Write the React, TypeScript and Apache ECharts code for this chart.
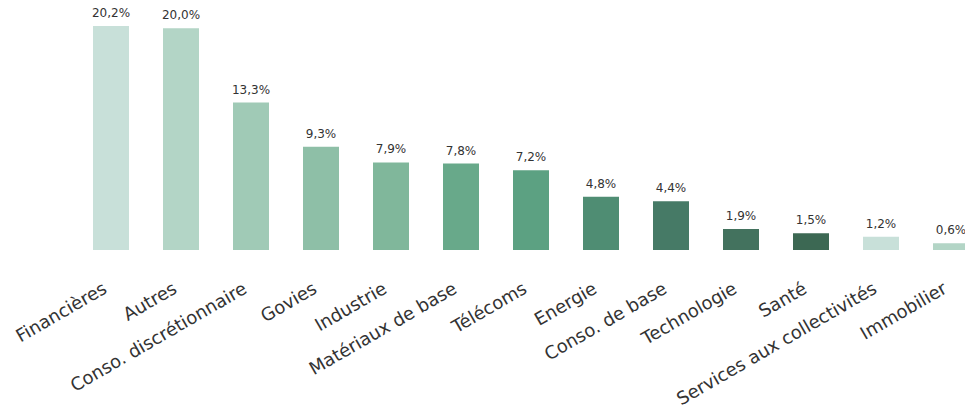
import React, { useEffect, useRef } from "react";
import * as echarts from "echarts";

const categories = [
  "Financières",
  "Autres",
  "Conso. discrétionnaire",
  "Govies",
  "Industrie",
  "Matériaux de base",
  "Télécoms",
  "Energie",
  "Conso. de base",
  "Technologie",
  "Santé",
  "Services aux collectivités",
  "Immobilier",
];
const values = [20.2, 20.0, 13.3, 9.3, 7.9, 7.8, 7.2, 4.8, 4.4, 1.9, 1.5, 1.2, 0.6];
const colors = [
  "#c8e0d9",
  "#b3d5c6",
  "#a0cab6",
  "#8ebfa7",
  "#80b79b",
  "#68a98a",
  "#5ca182",
  "#4f8d73",
  "#467a66",
  "#43725e",
  "#3c6853",
  "#c8e0d9",
  "#b3d5c6",
];

export default function App() {
  const ref = useRef<HTMLDivElement>(null);
  useEffect(() => {
    if (!ref.current) return;
    const chart = echarts.init(ref.current, undefined, { renderer: "svg" });
    chart.setOption({
      animation: false,
      grid: {
        left: 76,
        width: 910,
        top: 26,
        bottom: 162,
        containLabel: false,
        outerBoundsMode: "none",
      },
      xAxis: {
        type: "category",
        data: categories,
        axisLine: { show: false },
        axisTick: { show: false },
        axisLabel: {
          rotate: 30,
          interval: 0,
          margin: 33,
          padding: [0, 7, 0, 0],
          fontFamily: "DejaVu Sans",
          fontSize: 18,
          color: "#333",
        },
      },
      yAxis: {
        type: "value",
        min: 0,
        max: 20.2,
        show: false,
        splitLine: { show: false },
      },
      series: [
        {
          type: "bar",
          barWidth: 36,
          data: values.map((v, i) => ({ value: v, itemStyle: { color: colors[i] } })),
          label: {
            show: true,
            position: "top",
            distance: 7,
            fontFamily: "DejaVu Sans",
            fontSize: 12,
            color: "#333",
            formatter: (p: any) => p.value.toFixed(1).replace(".", ",") + "%",
          },
        },
      ],
    });
    return () => chart.dispose();
  }, []);
  return <div ref={ref} style={{ width: 965, height: 412, position: "absolute", left: 0, top: 0 }} />;
}
